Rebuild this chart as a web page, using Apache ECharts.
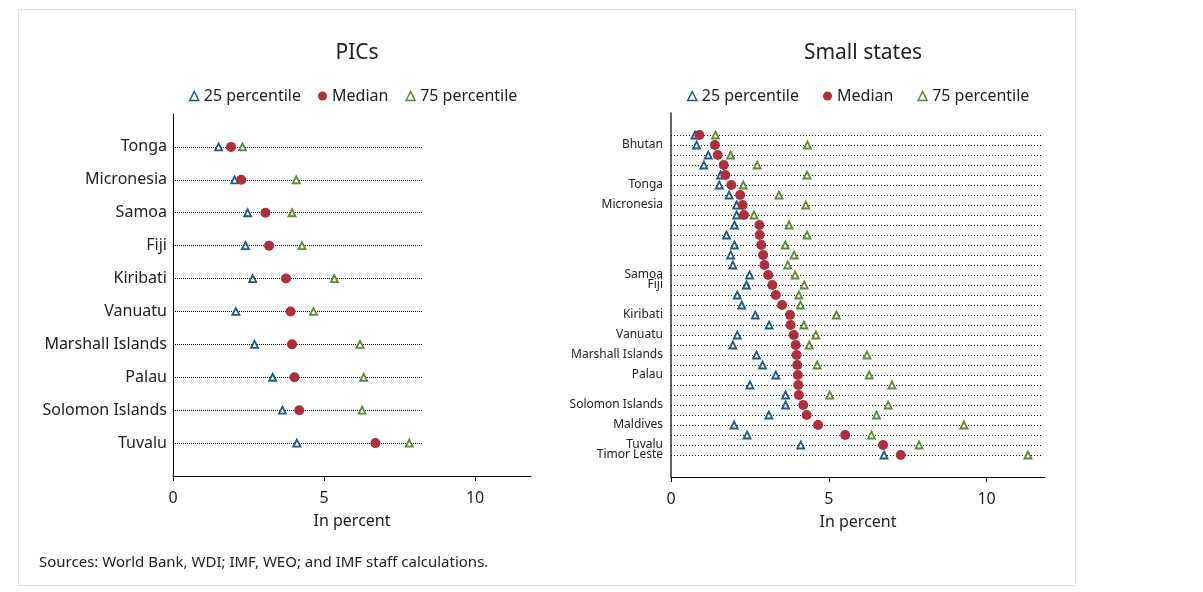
<!DOCTYPE html>
<html>
<head>
<meta charset="utf-8">
<script src="https://cdn.jsdelivr.net/npm/echarts@6/dist/echarts.min.js"></script>
<style>
  html, body { margin: 0; padding: 0; background: #fff; }
  #chart { width: 1203px; height: 592px; }
</style>
</head>
<body>
<div id="chart"></div>
<script>
// ---- Data ----
const picNames = ['Tonga', 'Micronesia', 'Samoa', 'Fiji', 'Kiribati', 'Vanuatu', 'Marshall Islands', 'Palau', 'Solomon Islands', 'Tuvalu'];
const picP25 = [1.51, 2.04, 2.47, 2.40, 2.64, 2.08, 2.70, 3.30, 3.62, 4.10];
const picMedian = [1.92, 2.26, 3.06, 3.18, 3.74, 3.89, 3.94, 4.02, 4.18, 6.70];
const picP75 = [2.30, 4.08, 3.94, 4.27, 5.34, 4.65, 6.19, 6.31, 6.26, 7.82];

const smallNames = ['', 'Bhutan', '', '', '', 'Tonga', '', 'Micronesia', '', '', '', '', '', '', 'Samoa', 'Fiji', '', '', 'Kiribati', '', 'Vanuatu', '', 'Marshall Islands', '', 'Palau', '', '', 'Solomon Islands', '', 'Maldives', '', 'Tuvalu', 'Timor Leste'];
const smallP25 = [0.76, 0.81, 1.18, 1.04, 1.57, 1.53, 1.84, 2.08, 2.08, 2.01, 1.76, 2.01, 1.89, 1.96, 2.49, 2.39, 2.10, 2.24, 2.67, 3.11, 2.10, 1.96, 2.71, 2.90, 3.32, 2.50, 3.63, 3.63, 3.10, 2.00, 2.41, 4.11, 6.75];
const smallMedian = [0.90, 1.39, 1.48, 1.67, 1.72, 1.91, 2.19, 2.27, 2.31, 2.80, 2.81, 2.86, 2.92, 2.96, 3.08, 3.21, 3.32, 3.52, 3.77, 3.79, 3.89, 3.95, 3.98, 4.00, 4.02, 4.03, 4.05, 4.19, 4.30, 4.66, 5.52, 6.72, 7.28];
const smallP75 = [1.41, 4.32, 1.89, 2.73, 4.31, 2.29, 3.42, 4.27, 2.63, 3.74, 4.31, 3.62, 3.90, 3.70, 3.93, 4.22, 4.05, 4.10, 5.24, 4.21, 4.59, 4.38, 6.21, 4.63, 6.28, 7.00, 5.03, 6.88, 6.51, 9.28, 6.35, 7.86, 11.31];

const xTicks = [0, 5, 10];
const picLineEnd = 8.27;
const smallLineEnd = 11.77;
const seriesNames = ['25 percentile', 'Median', '75 percentile'];
const titles = ['PICs', 'Small states'];
const xName = 'In percent';
const sourceNote = 'Sources: World Bank, WDI; IMF, WEO; and IMF staff calculations.';

// ---- Styles ----
const FONT = 'Noto Sans';
const BLUE = '#1c5a8c';
const RED = '#b22d3b';
const GREEN = '#5b8c34';
const TXT = '#222';

const chart = echarts.init(document.getElementById('chart'), null, { renderer: 'canvas' });

function pts(arr) { return arr.map((v, i) => [v, i + 1]); }
function rows(n, end) {
  const out = [];
  for (let i = 0; i < n; i++) out.push({ coords: [[0, i + 1], [end, i + 1]] });
  return out;
}

function xAxisCfg(gi) {
  return {
    type: 'value', gridIndex: gi, min: 0, max: 11.85, position: 'bottom',
    name: xName, nameLocation: 'middle', nameGap: 37,
    nameTextStyle: { fontFamily: FONT, fontSize: 16, color: TXT },
    axisLine: { show: true, onZero: false, lineStyle: { color: '#000', width: 1 } },
    axisTick: { show: true, length: 5, customValues: xTicks, lineStyle: { color: '#000' } },
    axisLabel: { customValues: xTicks, fontFamily: FONT, fontSize: 16, color: TXT, margin: 14 },
    splitLine: { show: false }
  };
}

function sc(name, gi, data, kind, size) {
  const base = {
    name, type: 'scatter', xAxisIndex: gi, yAxisIndex: gi, data, z: 3,
    symbolSize: size, silent: true
  };
  if (kind === 'circle') {
    base.symbol = 'circle';
    base.itemStyle = { color: RED, opacity: 1 };
    base.z = 4;
  } else {
    base.symbol = 'triangle';
    base.itemStyle = { color: '#fff', borderColor: kind, borderWidth: 1.8, opacity: 1 };
  }
  return base;
}

const picIdx = picNames.map((_, i) => i + 1);
// two label sets on the right so that neighbouring labels are never hidden
const smallIdxA = [];
const smallIdxB = [];
let toggle = false;
smallNames.forEach((n, i) => {
  if (!n) return;
  const prevLabelled = i > 0 && smallNames[i - 1];
  toggle = prevLabelled ? !toggle : false;
  (toggle ? smallIdxB : smallIdxA).push(i + 1);
});

function legendCfg(left, gap) {
  return {
    left, top: 83, itemGap: gap, itemWidth: 9, itemHeight: 9,
    textStyle: { fontFamily: FONT, fontSize: 16, color: TXT },
    data: [
      { name: seriesNames[0], icon: 'triangle', itemStyle: { color: '#fff', borderColor: BLUE, borderWidth: 1.5 } },
      { name: seriesNames[1], icon: 'circle', itemStyle: { color: RED } },
      { name: seriesNames[2], icon: 'triangle', itemStyle: { color: '#fff', borderColor: GREEN, borderWidth: 1.5 } }
    ],
    selectedMode: false
  };
}

function smallYAxis(idx, showLine) {
  return {
    type: 'value', gridIndex: 1, min: -1.2, max: 35.2, inverse: true, position: 'left',
    axisLine: { show: showLine, onZero: false, lineStyle: { color: '#333', width: 1.5 } },
    axisTick: { show: false },
    splitLine: { show: false },
    axisLabel: {
      customValues: idx, margin: 8, showMinLabel: true, showMaxLabel: true, hideOverlap: false,
      fontFamily: FONT, fontSize: 12, color: TXT,
      formatter: v => smallNames[Math.round(v) - 1] || ''
    }
  };
}

const option = {
  backgroundColor: '#fff',
  animation: false,
  textStyle: { fontFamily: FONT },
  title: [
    { text: titles[0], left: 352, top: 38, textAlign: 'center', textStyle: { fontFamily: FONT, fontSize: 21, fontWeight: 'normal', color: TXT } },
    { text: titles[1], left: 858, top: 38, textAlign: 'center', textStyle: { fontFamily: FONT, fontSize: 21, fontWeight: 'normal', color: TXT } },
    { text: sourceNote, left: 34, top: 550, textStyle: { fontFamily: FONT, fontSize: 15, fontWeight: 'normal', color: TXT } }
  ],
  legend: [legendCfg(184, 17), legendCfg(682, 24)],
  grid: [
    { left: 173, top: 114, width: 358, height: 362, containLabel: false },
    { left: 671, top: 113, width: 374, height: 364, containLabel: false }
  ],
  xAxis: [xAxisCfg(0), xAxisCfg(1)],
  yAxis: [
    {
      type: 'value', gridIndex: 0, min: 0, max: 11, inverse: true,
      axisLine: { show: true, onZero: false, lineStyle: { color: '#000', width: 1 } },
      axisTick: { show: false },
      splitLine: { show: false },
      axisLabel: {
        customValues: picIdx, margin: 6, showMinLabel: true, showMaxLabel: true,
        fontFamily: FONT, fontSize: 16, color: TXT,
        formatter: v => picNames[Math.round(v) - 1] || ''
      }
    },
    smallYAxis(smallIdxA, true),
    smallYAxis(smallIdxB, false)
  ],
  series: [
    {
      type: 'lines', coordinateSystem: 'cartesian2d', xAxisIndex: 0, yAxisIndex: 0,
      data: rows(picNames.length, picLineEnd), silent: true, z: 1,
      lineStyle: { color: '#111', width: 1, type: [1, 1], opacity: 1 }
    },
    {
      type: 'lines', coordinateSystem: 'cartesian2d', xAxisIndex: 1, yAxisIndex: 1,
      data: rows(smallNames.length, smallLineEnd), silent: true, z: 1,
      lineStyle: { color: '#111', width: 1, type: [1, 2], opacity: 1 }
    },
    sc(seriesNames[0], 0, pts(picP25), BLUE, 7),
    sc(seriesNames[2], 0, pts(picP75), GREEN, 7),
    sc(seriesNames[1], 0, pts(picMedian), 'circle', 10),
    sc(seriesNames[0], 1, pts(smallP25), BLUE, 7),
    sc(seriesNames[2], 1, pts(smallP75), GREEN, 7),
    sc(seriesNames[1], 1, pts(smallMedian), 'circle', 10)
  ],
  graphic: [
    {
      type: 'rect', silent: true, z: -1,
      shape: { x: 18.5, y: 9.5, width: 1057, height: 576 },
      style: { fill: 'none', stroke: '#e3e3e3', lineWidth: 1 }
    }
  ]
};

chart.setOption(option);
</script>
</body>
</html>
